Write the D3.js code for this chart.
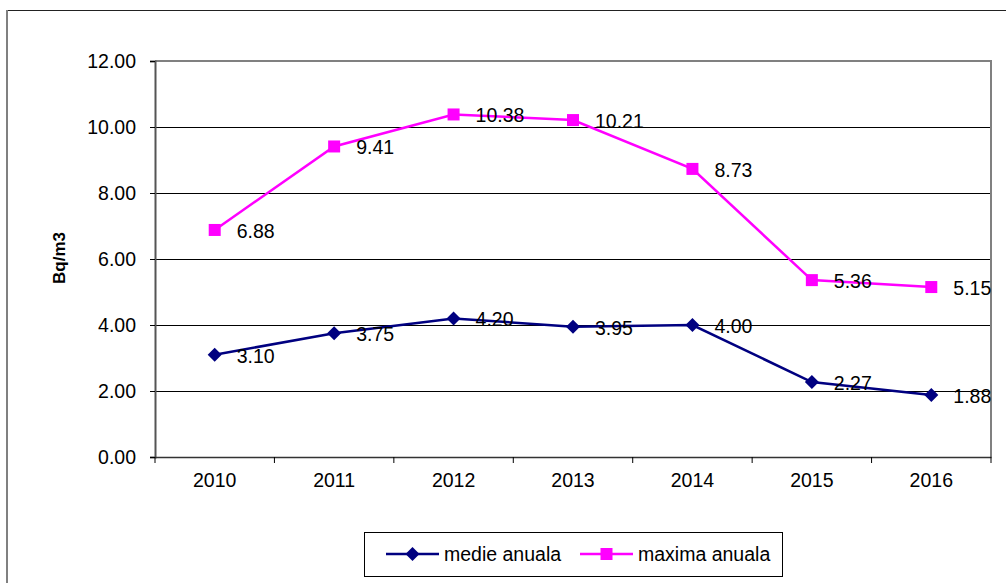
<!DOCTYPE html>
<html>
<head>
<meta charset="utf-8">
<script src="https://cdnjs.cloudflare.com/ajax/libs/d3/7.8.5/d3.min.js"></script>
<style>
  html, body { margin: 0; padding: 0; background: #fff; }
  svg { display: block; font-family: "Liberation Sans", Arial, sans-serif; }
</style>
</head>
<body>
<svg id="chart" width="1006" height="583"></svg>
<script>
// Annual radon concentration, Bq/m3
const years = ["2010", "2011", "2012", "2013", "2014", "2015", "2016"];
const medieAnuala = [3.10, 3.75, 4.20, 3.95, 4.00, 2.27, 1.88];
const maximaAnuala = [6.88, 9.41, 10.38, 10.21, 8.73, 5.36, 5.15];
const yTicks = [0, 2, 4, 6, 8, 10, 12];
const seriesNames = ["medie anuala", "maxima anuala"];

const FONT = 19.5;
const svg = d3.select("#chart");

// outer chart frame (continues past the right and bottom edges)
svg.append("line").attr("x1", 7).attr("x2", 1010).attr("y1", 10.5).attr("y2", 10.5)
  .attr("stroke", "#222").attr("stroke-width", 1);
svg.append("line").attr("x1", 7).attr("x2", 7).attr("y1", 10).attr("y2", 590)
  .attr("stroke", "#808080").attr("stroke-width", 2);

const plot = { left: 155, right: 991, top: 61, bottom: 457 };

const x = d3.scaleBand().domain(years).range([plot.left, plot.right]).padding(0);
const y = d3.scaleLinear().domain([0, 12]).range([plot.bottom, plot.top]);
const cx = d => x(d) + x.bandwidth() / 2;

// horizontal gridlines
svg.append("g").selectAll("line").data(yTicks.filter(t => t > 0 && t < 12)).join("line")
  .attr("x1", plot.left).attr("x2", plot.right)
  .attr("y1", d => Math.round(y(d)) + 0.5).attr("y2", d => Math.round(y(d)) + 0.5)
  .attr("stroke", "#000").attr("stroke-width", 1);

// plot area frame: top and right edges
svg.append("path")
  .attr("d", `M${plot.left},${plot.top} H${plot.right} V${plot.bottom}`)
  .attr("fill", "none").attr("stroke", "#808080").attr("stroke-width", 2);

// y axis
const yAxis = d3.axisLeft(y).tickValues(yTicks).tickFormat(d3.format(".2f")).tickSize(5).tickPadding(14);
const gy = svg.append("g").attr("transform", `translate(${plot.left},0)`).call(yAxis);
gy.select(".domain").attr("stroke", "#555").attr("stroke-width", 2);
gy.selectAll(".tick line").attr("stroke", "#000");
gy.selectAll(".tick text").attr("font-size", FONT).attr("fill", "#000")
  .attr("font-family", "Liberation Sans, Arial, sans-serif");

// x axis
const xAxis = d3.axisBottom(x).tickSize(0).tickPadding(16);
const gx = svg.append("g").attr("transform", `translate(0,${plot.bottom})`).call(xAxis);
gx.select(".domain").attr("stroke", "#333").attr("stroke-width", 1.5);
gx.selectAll(".tick text").attr("font-size", FONT).attr("fill", "#000")
  .attr("font-family", "Liberation Sans, Arial, sans-serif");
// category separators
svg.append("g").selectAll("line").data(years.concat(["end"])).join("line")
  .attr("x1", (d, i) => plot.left + i * x.bandwidth()).attr("x2", (d, i) => plot.left + i * x.bandwidth())
  .attr("y1", plot.bottom).attr("y2", plot.bottom + 6)
  .attr("stroke", "#000").attr("stroke-width", 1);

// y axis title
svg.append("text")
  .attr("transform", "translate(65,258) rotate(-90)")
  .attr("text-anchor", "middle")
  .attr("font-size", 17).attr("font-weight", "bold").attr("fill", "#000")
  .text("Bq/m3");

const series = [
  { name: seriesNames[0], values: medieAnuala, color: "#000080", marker: "diamond" },
  { name: seriesNames[1], values: maximaAnuala, color: "#FF00FF", marker: "square" }
];

const line = d3.line().x((d, i) => cx(years[i])).y(d => y(d));

function drawMarker(g, type, color, px, py) {
  if (type === "square") {
    g.append("rect").attr("x", px - 6).attr("y", py - 6).attr("width", 12).attr("height", 12)
      .attr("fill", color);
  } else {
    g.append("path").attr("d", `M${px},${py - 7} L${px + 7},${py} L${px},${py + 7} L${px - 7},${py} Z`)
      .attr("fill", color);
  }
}

series.forEach(s => {
  svg.append("path").datum(s.values).attr("d", line)
    .attr("fill", "none").attr("stroke", s.color).attr("stroke-width", 2.5);
  const g = svg.append("g");
  s.values.forEach((v, i) => drawMarker(g, s.marker, s.color, cx(years[i]), y(v)));
});

// data labels
series.forEach(s => {
  svg.append("g").selectAll("text").data(s.values).join("text")
    .attr("x", (d, i) => cx(years[i]) + 22)
    .attr("y", d => y(d) + 8)
    .attr("font-size", FONT).attr("fill", "#000")
    .text(d => d3.format(".2f")(d));
});

// legend
const legend = svg.append("g");
legend.append("rect").attr("x", 364.5).attr("y", 532.5).attr("width", 418).attr("height", 44)
  .attr("fill", "#fff").attr("stroke", "#000").attr("stroke-width", 1);
const legendItems = [
  { s: series[0], x0: 386 },
  { s: series[1], x0: 580 }
];
legendItems.forEach(({ s, x0 }) => {
  const ly = 554;
  legend.append("line").attr("x1", x0).attr("x2", x0 + 53).attr("y1", ly).attr("y2", ly)
    .attr("stroke", s.color).attr("stroke-width", 2.5);
  drawMarker(legend, s.marker, s.color, x0 + 26.5, ly);
  legend.append("text").attr("x", x0 + 58).attr("y", ly + 7)
    .attr("font-size", FONT).attr("fill", "#000").text(s.name);
});
</script>
</body>
</html>
